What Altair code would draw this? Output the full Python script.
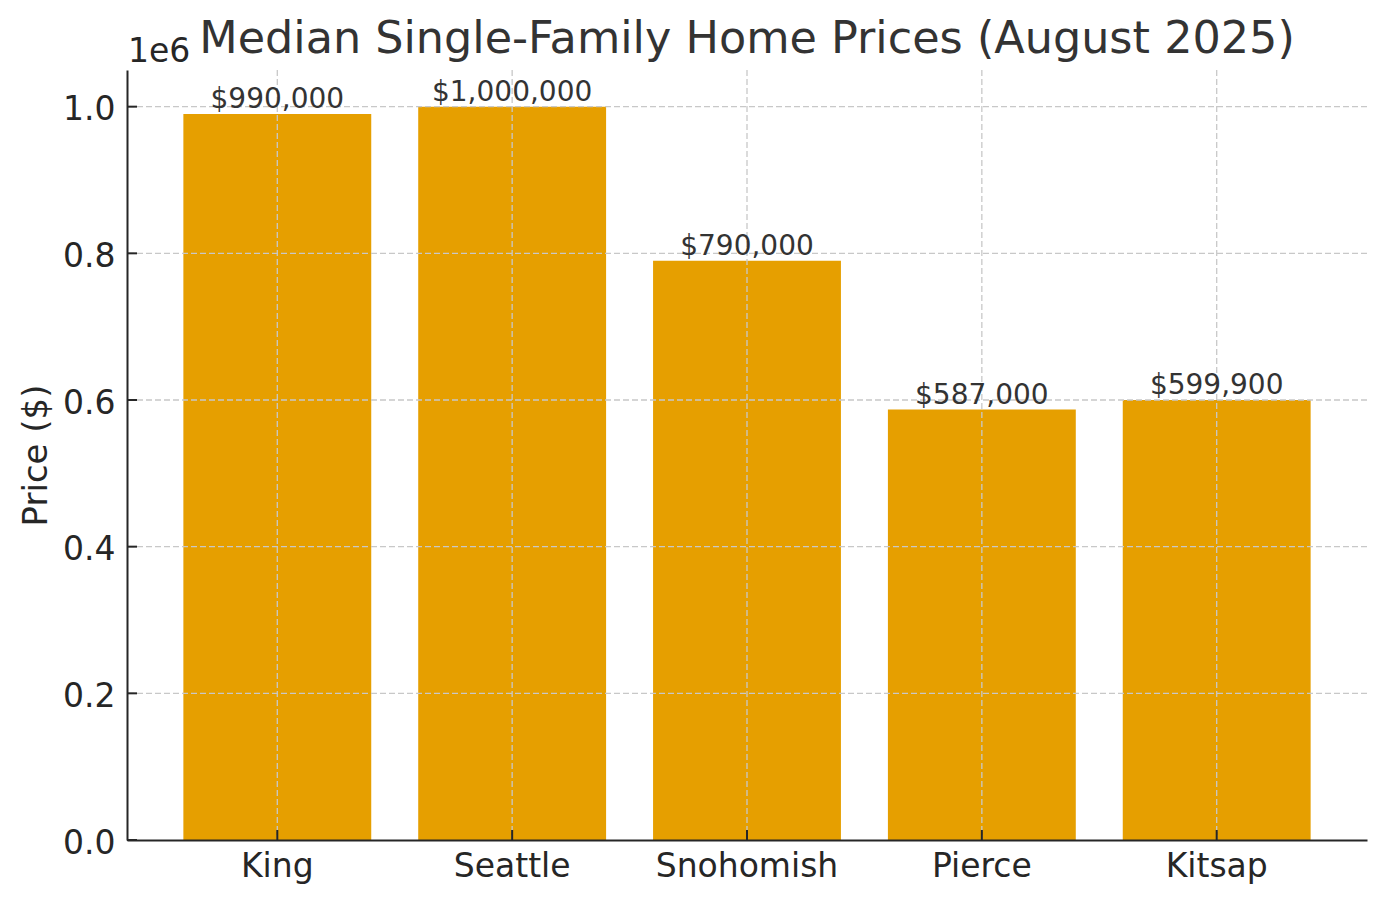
import altair as alt
import pandas as pd

regions = ["King", "Seattle", "Snohomish", "Pierce", "Kitsap"]
prices = [990000, 1000000, 790000, 587000, 599900]
price_labels = ["$990,000", "$1,000,000", "$790,000", "$587,000", "$599,900"]
y_ticks = [0, 200000, 400000, 600000, 800000, 1000000]
y_grid = [200000, 400000, 600000, 800000, 1000000]
title_text = "Median Single-Family Home Prices (August 2025)"

W, H = 1240, 770
FONT = "DejaVu Sans"
DARK = "#262626"
TXT = "#333333"
GRID = "#c8c8c8"

df = pd.DataFrame({"Region": regions, "Price": prices, "Label": price_labels})
ticks_df = pd.DataFrame({"Price": y_ticks})
grid_df = pd.DataFrame({"Price": y_grid})
note_df = pd.DataFrame({"offset": ["1e6"], "title": [title_text]})

xscale = alt.Scale(domain=regions, paddingInner=0.2, paddingOuter=0.24)
yscale = alt.Scale(domain=[0, 1050000], nice=False, zero=True)

x_axis = alt.Axis(title=None, labelAngle=0, ticks=False, grid=False,
                  labelFont=FONT, labelFontSize=33, labelColor=DARK, labelLimit=0,
                  labelPadding=10, domainColor=DARK, domainWidth=2, zindex=1)
y_axis = alt.Axis(title="Price ($)", values=y_ticks, ticks=False, grid=False,
                  labelExpr="format(datum.value / 1000000, '.1f')",
                  labelFont=FONT, labelFontSize=33, labelColor=DARK,
                  labelPadding=12, labelOffset=3, labelBaseline="middle",
                  domainColor=DARK, domainWidth=2, zindex=1,
                  titleFont=FONT, titleFontSize=34, titleFontWeight="normal",
                  titleColor=DARK, titleAngle=270, titleX=-81, titleY=H / 2,
                  titleAlign="center", titleBaseline="alphabetic")

x_enc = alt.X("Region:N", sort=regions, scale=xscale, axis=x_axis)
y_enc = alt.Y("Price:Q", scale=yscale, axis=y_axis)

bars = alt.Chart(df).mark_bar(color="#E69F00").encode(x=x_enc, y=y_enc)

hgrid = alt.Chart(grid_df).mark_rule(color=GRID, strokeWidth=1.3, strokeDash=[6, 3]).encode(
    y=y_enc)

vgrid = alt.Chart(df).mark_rule(color=GRID, strokeWidth=1.3, strokeDash=[6, 3]).encode(
    x=x_enc)

yticks = alt.Chart(ticks_df).mark_rule(color=DARK, strokeWidth=2).encode(
    y=y_enc, x=alt.value(0), x2=alt.value(10))

xticks = alt.Chart(df).mark_rule(color=DARK, strokeWidth=2).encode(
    x=x_enc, y=alt.value(H), y2=alt.value(H - 10))

labels = alt.Chart(df).mark_text(font=FONT, fontSize=28, color=TXT,
                                 baseline="alphabetic", dy=-6).encode(
    x=x_enc, y=y_enc, text="Label:N")

offset_text = alt.Chart(note_df).mark_text(
    font=FONT, fontSize=33, color=DARK, align="left", baseline="alphabetic").encode(
    x=alt.value(1), y=alt.value(-8), text="offset:N")

title_mark = alt.Chart(note_df).mark_text(
    font=FONT, fontSize=44.5, color=TXT, align="center", baseline="alphabetic").encode(
    x=alt.value(W / 2), y=alt.value(-17), text="title:N")

chart = alt.layer(bars, hgrid, vgrid, yticks, xticks, labels, offset_text, title_mark).properties(
    width=W, height=H,
    autosize=alt.AutoSizeParams(type="none"),
    padding={"left": 119, "top": 62, "right": 10, "bottom": 60},
    background="white",
).configure_view(strokeWidth=0)

chart.save("out.html", embed_options={"renderer": "svg", "actions": False})
